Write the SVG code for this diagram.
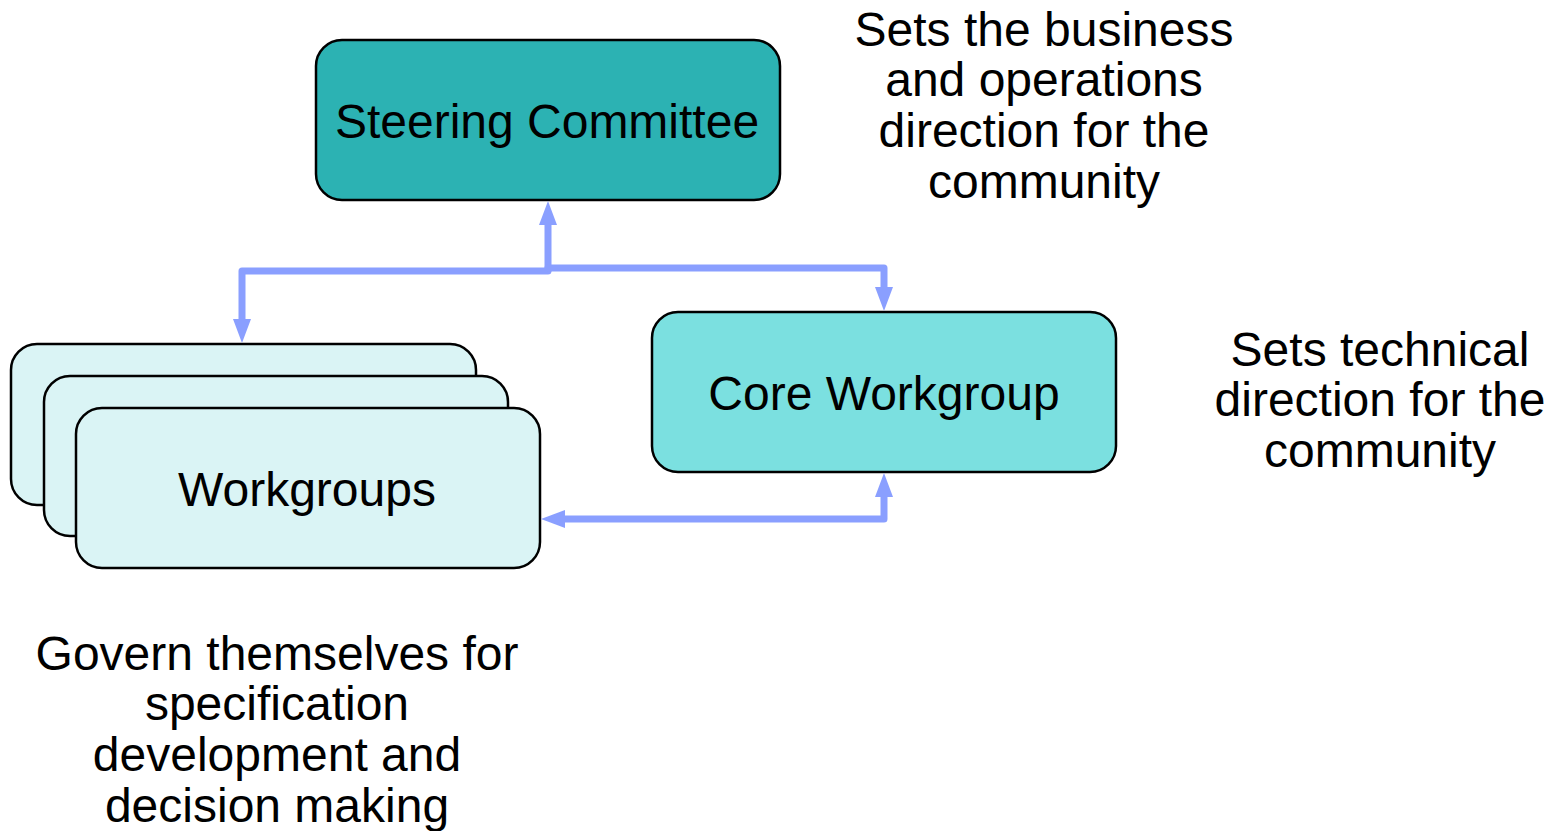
<svg xmlns="http://www.w3.org/2000/svg" width="1561" height="831" viewBox="0 0 1561 831">
<style>
.box{stroke:#000;stroke-width:2.5}
.t{font-family:"Liberation Sans",Arial,sans-serif;font-size:48px;fill:#000;text-anchor:middle}
.c{fill:none;stroke:#8a9fff;stroke-width:7;stroke-linejoin:round;stroke-linecap:round}
.ah{fill:#8a9fff}
</style>
<rect width="1561" height="831" fill="#fff"/>
<g id="steering">
<rect class="box" x="316" y="40" width="464" height="160" rx="26" fill="#2cb2b3"/>
<text class="t" x="547" y="138">Steering Committee</text>
</g>
<g id="workgroups">
<rect class="box" x="11" y="344" width="465" height="161" rx="26" fill="#daf4f5"/>
<rect class="box" x="44" y="376" width="464" height="160" rx="26" fill="#daf4f5"/>
<rect class="box" x="76" y="408" width="464" height="160" rx="26" fill="#daf4f5"/>
<text class="t" x="307" y="506">Workgroups</text>
</g>
<g id="core">
<rect class="box" x="652" y="312" width="464" height="160" rx="26" fill="#7be0e0"/>
<text class="t" x="884" y="410">Core Workgroup</text>
</g>
<g id="note-steering">
<text class="t" x="1044" y="46">Sets the business</text>
<text class="t" x="1044" y="96">and operations</text>
<text class="t" x="1044" y="147">direction for the</text>
<text class="t" x="1044" y="198">community</text>
</g>
<g id="note-core">
<text class="t" x="1380" y="366">Sets technical</text>
<text class="t" x="1380" y="416">direction for the</text>
<text class="t" x="1380" y="467">community</text>
</g>
<g id="note-workgroups">
<text class="t" x="277" y="670">Govern themselves for</text>
<text class="t" x="277" y="720">specification</text>
<text class="t" x="277" y="771">development and</text>
<text class="t" x="277" y="822">decision making</text>
</g>
<g id="connectors">
<path class="c" d="M548,270 L548,222"/>
<polygon class="ah" points="548,201 557,225 539,225"/>
<polyline class="c" points="548,271 242,271 242,321"/>
<polygon class="ah" points="242,343 233,319 251,319"/>
<polyline class="c" points="548,268 884,268 884,289"/>
<polygon class="ah" points="884,311 875,287 893,287"/>
<polyline class="c" points="884,495 884,519 563,519"/>
<polygon class="ah" points="884,473 893,497 875,497"/>
<polygon class="ah" points="541,519 565,510 565,528"/>
</g>
</svg>
